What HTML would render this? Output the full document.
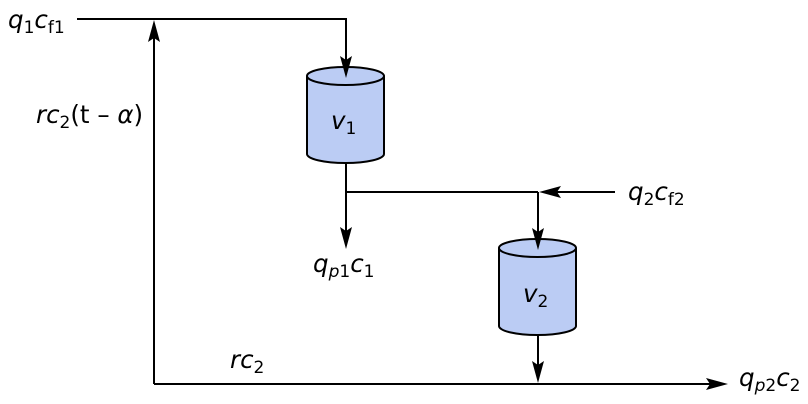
<!DOCTYPE html>
<html><head><meta charset="utf-8"><style>
html,body{margin:0;padding:0;background:#fff;}
svg{display:block;}
text{font-family:"DejaVu Sans","Liberation Sans",sans-serif;font-size:24.5px;fill:#000;}
.i{font-style:italic;}
.s{font-size:17px;}
</style></head><body>
<svg width="808" height="404" viewBox="0 0 808 404" xmlns="http://www.w3.org/2000/svg">
<g stroke="#000" stroke-width="2" fill="none">
<path d="M77,19 H346 V70"/>
<path d="M154,384 V30"/>
<path d="M154,384 H715"/>
<path d="M346,163 V235"/>
<path d="M346,192 H538"/>
<path d="M615,192 H550"/>
<path d="M538,192 V238"/>
<path d="M538,335 V372"/>
</g>
<g stroke="#000" stroke-width="2" fill="#bbccf4">
<path d="M307,76 V154 A38.5,9 0 0 0 384,154 V76"/>
<ellipse cx="345.5" cy="76" rx="38.5" ry="9"/>
<path d="M499,248 V326 A38.5,9 0 0 0 576,326 V248"/>
<ellipse cx="537.5" cy="248" rx="38.5" ry="9"/>
</g>
<g fill="#000">
<path d="M346,78 L340,56 L346,60 L352,56 Z"/>
<path d="M154,20 L148,42 L154,38 L160,42 Z"/>
<path d="M728,384 L706,378 L710,384 L706,390 Z"/>
<path d="M346,249 L340,227 L346,231 L352,227 Z"/>
<path d="M538,250 L532,228 L538,232 L544,228 Z"/>
<path d="M538,383 L532,361 L538,365 L544,361 Z"/>
<path d="M539,192 L561,186 L557,192 L561,198 Z"/>
</g>
<text x="8" y="28"><tspan class="i">q</tspan><tspan class="s" dy="5">1</tspan><tspan class="i" dy="-5">c</tspan><tspan class="s" dy="5">f1</tspan></text>
<text x="36" y="123"><tspan class="i">rc</tspan><tspan class="s" dy="5">2</tspan><tspan dy="-5">(t – </tspan><tspan class="i">α</tspan><tspan>)</tspan></text>
<text x="331" y="129"><tspan class="i">v</tspan><tspan class="s" dy="5">1</tspan></text>
<text x="523" y="302"><tspan class="i">v</tspan><tspan class="s" dy="5">2</tspan></text>
<text x="628" y="200"><tspan class="i">q</tspan><tspan class="s" dy="5">2</tspan><tspan class="i" dy="-5">c</tspan><tspan class="s" dy="5">f2</tspan></text>
<text x="313" y="272"><tspan class="i">q</tspan><tspan class="s i" dy="5">p</tspan><tspan class="s">1</tspan><tspan class="i" dy="-5">c</tspan><tspan class="s" dy="5">1</tspan></text>
<text x="230" y="368"><tspan class="i">rc</tspan><tspan class="s" dy="5">2</tspan></text>
<text x="739" y="386"><tspan class="i">q</tspan><tspan class="s i" dy="5">p</tspan><tspan class="s">2</tspan><tspan class="i" dy="-5">c</tspan><tspan class="s" dy="5">2</tspan></text>
</svg>
</body></html>
